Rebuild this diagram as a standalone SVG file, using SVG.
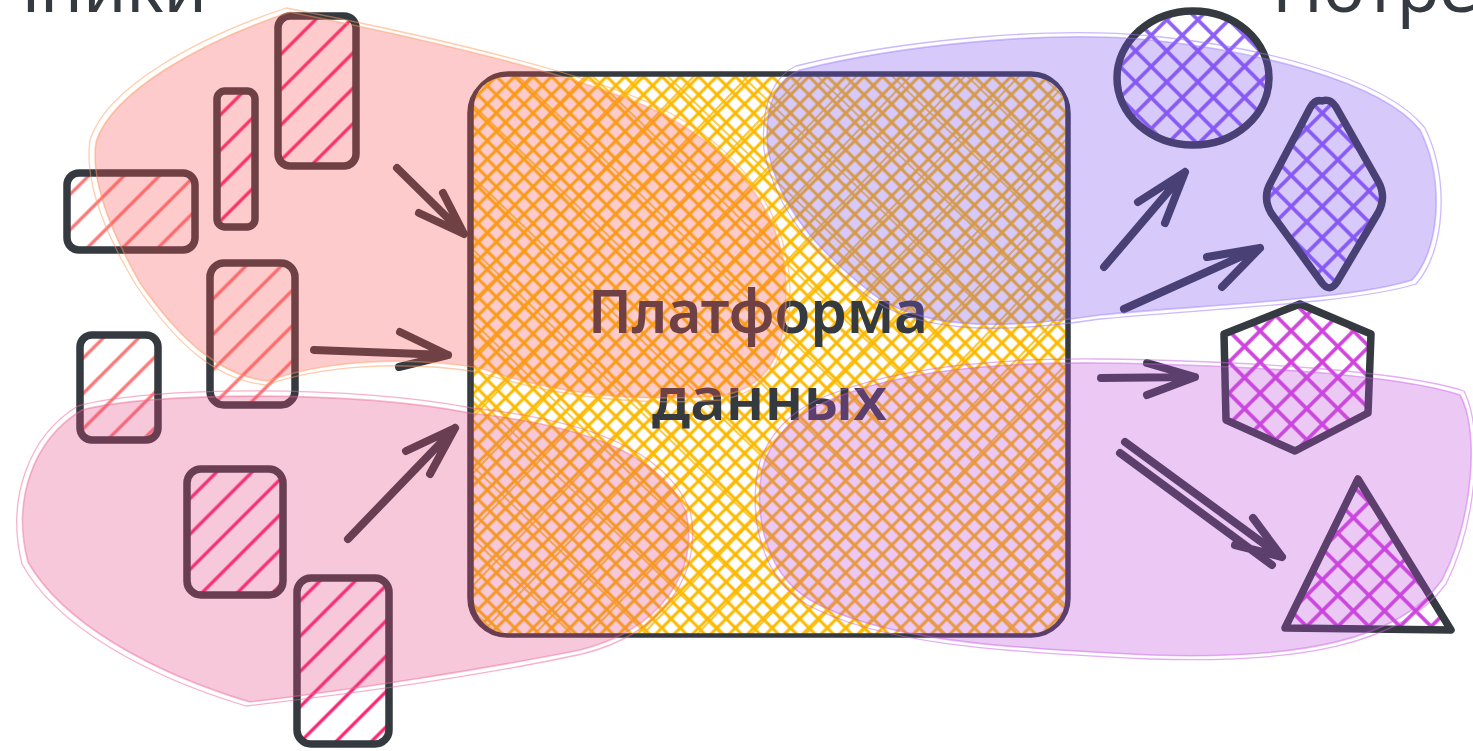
<svg xmlns="http://www.w3.org/2000/svg" width="1473" height="751" viewBox="0 0 1473 751">
<style>
.stk{fill:none;stroke:#343a40;stroke-width:7.5;stroke-linecap:round;stroke-linejoin:round}
.arr{fill:none;stroke:#343a40;stroke-width:8;stroke-linecap:round;stroke-linejoin:round}
.box{fill:none;stroke:#343a40;stroke-width:3.5}
.lbl{font-family:"Noto Sans","DejaVu Sans",sans-serif;fill:#343a40}
.blob{stroke-width:1.6;fill-opacity:0.3;stroke-opacity:0.45}
</style>
<defs>
<pattern id="hS" patternUnits="userSpaceOnUse" width="25" height="25" patternTransform="rotate(45)">
<line x1="12" y1="0" x2="12" y2="25" stroke="#ff7373" stroke-width="3.2"/>
</pattern>
<pattern id="hP" patternUnits="userSpaceOnUse" width="25" height="25" patternTransform="rotate(45)">
<line x1="12" y1="0" x2="12" y2="25" stroke="#ff1f6e" stroke-width="3.2"/>
</pattern>
<pattern id="xY" patternUnits="userSpaceOnUse" width="13" height="13" patternTransform="rotate(45)">
<line x1="2" y1="0" x2="2" y2="13" stroke="#fcb900" stroke-width="3"/>
<line x1="0" y1="2" x2="13" y2="2" stroke="#fcb900" stroke-width="3"/>
</pattern>
<pattern id="xY2" patternUnits="userSpaceOnUse" width="39" height="52" patternTransform="rotate(44)">
<line x1="6" y1="0" x2="6" y2="52" stroke="#fcb900" stroke-width="1.6"/>
<line x1="0" y1="7" x2="39" y2="7" stroke="#fcb900" stroke-width="1.6"/>
</pattern>
<pattern id="xV" patternUnits="userSpaceOnUse" width="22" height="22" patternTransform="rotate(45)">
<line x1="3" y1="0" x2="3" y2="22" stroke="#8b5cf6" stroke-width="3.6"/>
<line x1="0" y1="3" x2="22" y2="3" stroke="#8b5cf6" stroke-width="3.6"/>
</pattern>
<pattern id="xG" patternUnits="userSpaceOnUse" width="22" height="22" patternTransform="rotate(45)">
<line x1="3" y1="0" x2="3" y2="22" stroke="#d041de" stroke-width="3.6"/>
<line x1="0" y1="3" x2="22" y2="3" stroke="#d041de" stroke-width="3.6"/>
</pattern>
</defs>

<g id="labels">
<text class="lbl" x="207" y="12" font-size="70" text-anchor="end">Источники</text>
<text class="lbl" x="1272" y="12" font-size="70">Потребители</text>
</g>

<g id="platform">
<rect x="469" y="75" width="600" height="561" rx="38" fill="url(#xY)"/>
<rect x="469" y="75" width="600" height="561" rx="38" fill="url(#xY2)"/>
<rect class="box" x="469" y="75" width="600" height="561" rx="38"/>
<rect class="box" x="472" y="73" width="595" height="562" rx="36" stroke-width="2.2"/>
<text class="lbl" x="588" y="333" font-size="60" font-weight="600" textLength="340" lengthAdjust="spacingAndGlyphs">Платформа</text>
<text class="lbl" x="652" y="420" font-size="60" font-weight="600" textLength="235" lengthAdjust="spacingAndGlyphs">данных</text>
</g>

<g id="sources">
<g id="src1"><rect x="278" y="16" width="78" height="150" rx="12" fill="url(#hP)"/><rect class="stk" x="278" y="16" width="78" height="150" rx="12"/></g>
<g id="src2"><rect x="217" y="91" width="38" height="136" rx="8" fill="url(#hP)"/><rect class="stk" x="217" y="91" width="38" height="136" rx="8"/></g>
<g id="src3"><rect x="67" y="173" width="128" height="77" rx="12" fill="url(#hS)"/><rect class="stk" x="67" y="173" width="128" height="77" rx="12"/></g>
<g id="src4"><rect x="210" y="263" width="85" height="142" rx="14" fill="url(#hS)"/><rect class="stk" x="210" y="263" width="85" height="142" rx="14"/></g>
<g id="src5"><rect x="80" y="335" width="78" height="105" rx="12" fill="url(#hS)"/><rect class="stk" x="80" y="335" width="78" height="105" rx="12"/></g>
<g id="src6"><rect x="187" y="469" width="96" height="126" rx="14" fill="url(#hP)"/><rect class="stk" x="187" y="469" width="96" height="126" rx="14"/></g>
<g id="src7"><rect x="297" y="578" width="92" height="166" rx="14" fill="url(#hP)"/><rect class="stk" x="297" y="578" width="92" height="166" rx="14"/></g>
</g>

<g id="consumers">
<g id="con-circle"><ellipse cx="1193" cy="78" rx="76" ry="67" fill="url(#xV)"/><ellipse class="stk" cx="1193" cy="78" rx="76" ry="67" stroke-width="8"/></g>
<g id="con-diamond"><path d="M1322,101 Q1330,98 1336,107 L1378,181 Q1387,197 1378,213 L1337,282 Q1330,293 1322,283 L1271,213 Q1262,197 1271,182 L1310,108 Q1315,99 1322,101 Z" fill="url(#xV)"/><path class="stk" stroke-width="8" d="M1322,101 Q1330,98 1336,107 L1378,181 Q1387,197 1378,213 L1337,282 Q1330,293 1322,283 L1271,213 Q1262,197 1271,182 L1310,108 Q1315,99 1322,101 Z"/></g>
<g id="con-hexagon"><path d="M1300,304 L1371,334 L1368,413 L1295,451 L1226,420 L1224,334 Z" fill="url(#xG)"/><path class="stk" stroke-width="8" d="M1300,304 L1371,334 L1368,413 L1295,451 L1226,420 L1224,334 Z"/></g>
<g id="con-triangle"><path d="M1358,479 L1451,630 L1285,628 Z" fill="url(#xG)"/><path class="stk" stroke-width="8" d="M1358,479 L1451,630 L1285,628 Z"/></g>
</g>

<g id="connectors">
<path class="arr" d="M397,168 L464,234 M419,213 L464,234 L443,193"/>
<path class="arr" d="M314,350 L448,355 M400,332 L448,355 L399,367"/>
<path class="arr" d="M348,539 L455,428 M406,451 L455,428 L430,474"/>
<path class="arr" d="M1104,267 L1185,172 M1138,202 L1185,172 L1165,223"/>
<path class="arr" d="M1124,309 L1260,248 M1207,257 L1260,248 L1222,287"/>
<path class="arr" d="M1101,378 L1195,377 M1147,363 L1195,377 L1147,395"/>
<path class="arr" d="M1125,442 L1282,557 M1120,453 L1272,565 M1253,518 L1282,557 L1235,545"/>
</g>

<g id="areas">
<g id="area-sources-top" fill="#fa5252" stroke="#ff9a5c">
<path class="blob" d="M290,12 C380,30 560,68 650,108 C740,150 786,220 786,290 C787,350 770,388 720,396 C640,402 560,396 480,368 C400,355 320,362 268,381 C220,376 180,340 140,283 C110,230 90,180 96,142 C112,92 200,42 290,12 Z"/>
<path fill="none" stroke-width="1.3" stroke-opacity="0.5" d="M286,8 C380,26 560,64 652,104 C744,146 790,220 790,292 C790,352 772,392 720,400 C640,406 560,398 478,372 C400,360 320,366 266,385 C216,380 176,344 136,285 C104,232 84,182 90,140 C106,88 196,38 286,8"/>
</g>
<g id="area-sources-bottom" fill="#e64980" stroke="#f06595">
<path class="blob" d="M82,410 C150,392 350,390 470,413 C580,425 660,452 686,512 C700,572 660,630 580,650 C480,670 350,690 250,702 C150,672 62,622 28,562 C12,502 32,440 82,410 Z"/>
<path fill="none" stroke-width="1.3" stroke-opacity="0.5" d="M78,406 C150,386 350,385 472,408 C584,420 664,448 690,510 C704,572 664,634 582,654 C480,676 350,694 246,706 C146,676 56,626 22,564 C6,500 28,436 78,406"/>
</g>
<g id="area-consumers-top" fill="#7950f2" stroke="#9775fa">
<path class="blob" d="M800,70 C900,45 1050,30 1150,40 C1250,50 1380,80 1420,130 C1445,180 1440,250 1412,280 C1350,300 1200,305 1100,315 C1000,330 920,330 870,292 C820,252 780,210 768,150 C763,100 780,78 800,70 Z"/>
<path fill="none" stroke-width="1.3" stroke-opacity="0.5" d="M796,66 C900,40 1050,26 1152,36 C1254,46 1384,76 1425,128 C1450,180 1445,252 1416,284 C1352,304 1200,309 1100,319 C1000,334 918,334 866,295 C816,255 776,212 764,150 C760,98 778,74 796,66"/>
</g>
<g id="area-consumers-bottom" fill="#be4bdb" stroke="#cc5de8">
<path class="blob" d="M830,400 C900,370 1000,362 1100,363 C1250,365 1400,375 1460,395 C1480,430 1473,520 1442,580 C1400,640 1300,660 1150,655 C1000,648 880,640 810,600 C760,570 752,500 765,460 C780,425 805,410 830,400 Z"/>
<path fill="none" stroke-width="1.3" stroke-opacity="0.5" d="M826,396 C900,366 1000,358 1100,359 C1250,361 1402,371 1464,391 C1484,430 1477,522 1446,584 C1402,644 1300,664 1150,659 C1000,652 878,644 806,604 C754,572 748,500 761,458 C776,422 802,406 826,396"/>
</g>
</g>
</svg>
